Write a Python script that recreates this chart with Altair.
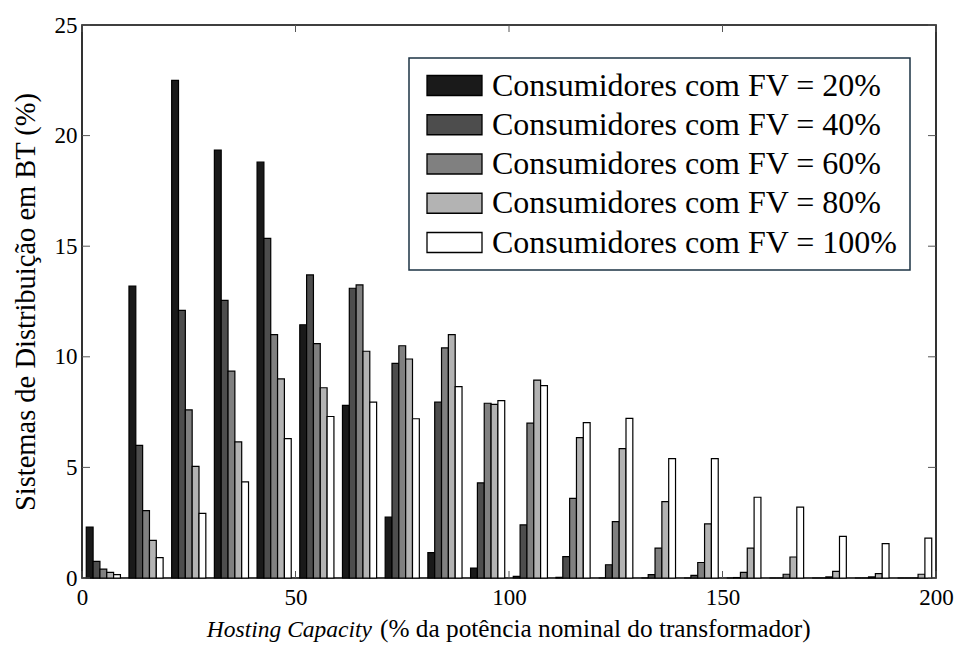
import altair as alt
import pandas as pd

# ---- data ----
bins = list(range(0, 200, 10))
series = [
    "Consumidores com FV = 20%",
    "Consumidores com FV = 40%",
    "Consumidores com FV = 60%",
    "Consumidores com FV = 80%",
    "Consumidores com FV = 100%",
]
fv20 = [2.3, 13.2, 22.5, 19.35, 18.8, 11.45, 7.8, 2.75, 1.15, 0.45, 0.07, 0.03, 0.0, 0.0, 0.0, 0.0, 0.0, 0.0, 0.0, 0.0]
fv40 = [0.75, 6.0, 12.1, 12.55, 15.35, 13.7, 13.1, 9.7, 7.95, 4.3, 2.4, 0.97, 0.6, 0.15, 0.12, 0.02, 0.0, 0.0, 0.0, 0.0]
fv60 = [0.4, 3.05, 7.6, 9.35, 11.0, 10.6, 13.25, 10.5, 10.4, 7.9, 7.0, 3.6, 2.55, 1.35, 0.7, 0.25, 0.17, 0.05, 0.05, 0.0]
fv80 = [0.25, 1.7, 5.05, 6.15, 9.0, 8.6, 10.25, 9.9, 11.0, 7.85, 8.95, 6.35, 5.85, 3.45, 2.45, 1.35, 0.95, 0.3, 0.2, 0.17]
fv100 = [0.15, 0.92, 2.92, 4.35, 6.3, 7.3, 7.95, 7.2, 8.65, 8.02, 8.7, 7.02, 7.22, 5.4, 5.4, 3.65, 3.2, 1.88, 1.55, 1.8]
colors = ["#1a1a1a", "#4d4d4d", "#808080", "#b3b3b3", "#ffffff"]
y_ticks = [0, 5, 10, 15, 20, 25]
x_ticks = [0, 50, 100, 150, 200]

rows = []
for j, (name, vals) in enumerate(zip(series, [fv20, fv40, fv60, fv80, fv100])):
    for b, v in zip(bins, vals):
        rows.append({"bin": b, "serie": name, "idx": j, "valor": v})
df = pd.DataFrame(rows)

W, H = 854, 553
FONT = "Liberation Serif"
xscale = alt.Scale(domain=[0, 200], nice=False, zero=False)
yscale = alt.Scale(domain=[0, 25], nice=False)
xaxis = alt.Axis(values=x_ticks, title=None, labelPadding=8,
                 labelFlush=False, labelOverlap=False)
yaxis = alt.Axis(values=y_ticks, title="Sistemas de Distribuição em BT (%)",
                 labelPadding=5, titlePadding=14, labelFlush=False,
                 labelOverlap=False)

bars = (
    alt.Chart(df)
    .transform_calculate(
        x0="datum.bin + 1 + 1.6 * datum.idx",
        x1="datum.bin + 2.6 + 1.6 * datum.idx",
    )
    .mark_bar(stroke="black", strokeWidth=1.2, opacity=1)
    .encode(
        x=alt.X("x0:Q", scale=xscale, axis=xaxis),
        x2="x1:Q",
        y=alt.Y("valor:Q", scale=yscale, stack=None, axis=yaxis),
        y2=alt.datum(0),
        color=alt.Color(
            "serie:N",
            scale=alt.Scale(domain=series, range=colors),
            legend=alt.Legend(
                title=None,
                orient="none",
                legendX=327,
                legendY=33,
                padding=11.5,
                strokeColor="#1c3344",
                fillColor="white",
                cornerRadius=0,
                symbolType="M-0.95,-1 L4.55,-1 L4.55,1 L-0.95,1 Z",
                symbolSize=400,
                symbolStrokeColor="black",
                symbolStrokeWidth=1.3,
                symbolOpacity=1,
                labelFont=FONT,
                labelFontSize=32,
                labelColor="black",
                labelOffset=39.5,
                labelLimit=600,
                rowPadding=7.25,
            ),
        ),
    )
)

yt = pd.DataFrame({"valor": y_ticks})
xt = pd.DataFrame({"x0": x_ticks})
tick_color = "#555555"
left_ticks = alt.Chart(yt).mark_rule(color=tick_color, strokeWidth=1).encode(
    y=alt.Y("valor:Q", scale=yscale, axis=yaxis), x=alt.value(0), x2=alt.value(8))
right_ticks = alt.Chart(yt).mark_rule(color=tick_color, strokeWidth=1).encode(
    y=alt.Y("valor:Q", scale=yscale, axis=yaxis), x=alt.value(W - 8), x2=alt.value(W))
bottom_ticks = alt.Chart(xt).mark_rule(color=tick_color, strokeWidth=1).encode(
    x=alt.X("x0:Q", scale=xscale, axis=xaxis), y=alt.value(H - 7), y2=alt.value(H))
top_ticks = alt.Chart(xt).mark_rule(color=tick_color, strokeWidth=1).encode(
    x=alt.X("x0:Q", scale=xscale, axis=xaxis), y=alt.value(0), y2=alt.value(7))

t1 = alt.Chart(pd.DataFrame({"t": ["Hosting Capacity"]})).mark_text(
    font=FONT, fontSize=23.5, fontStyle="italic", align="right", baseline="alphabetic", color="black"
).encode(x=alt.value(290), y=alt.value(612), text="t:N")
t2 = alt.Chart(pd.DataFrame({"t": ["(% da potência nominal do transformador)"]})).mark_text(
    font=FONT, fontSize=25.3, align="left", baseline="alphabetic", color="black"
).encode(x=alt.value(298), y=alt.value(612), text="t:N")

chart = (
    alt.layer(bars, left_ticks, right_ticks, bottom_ticks, top_ticks, t1, t2)
    .properties(
        width=W,
        height=H,
        autosize=alt.AutoSizeParams(type="none"),
        padding={"left": 74, "top": 17, "right": 18, "bottom": 68},
    )
    .configure_view(stroke="black", strokeWidth=1.6)
    .configure_legend(strokeWidth=1.5)
    .configure_axis(
        domain=False,
        ticks=False,
        grid=False,
        labelFont=FONT,
        labelFontSize=23,
        labelColor="black",
        titleFont=FONT,
        titleFontSize=28.5,
        titleFontWeight="normal",
        titleColor="black",
    )
)

chart.save("out.html", embed_options={"renderer": "svg", "actions": False})
